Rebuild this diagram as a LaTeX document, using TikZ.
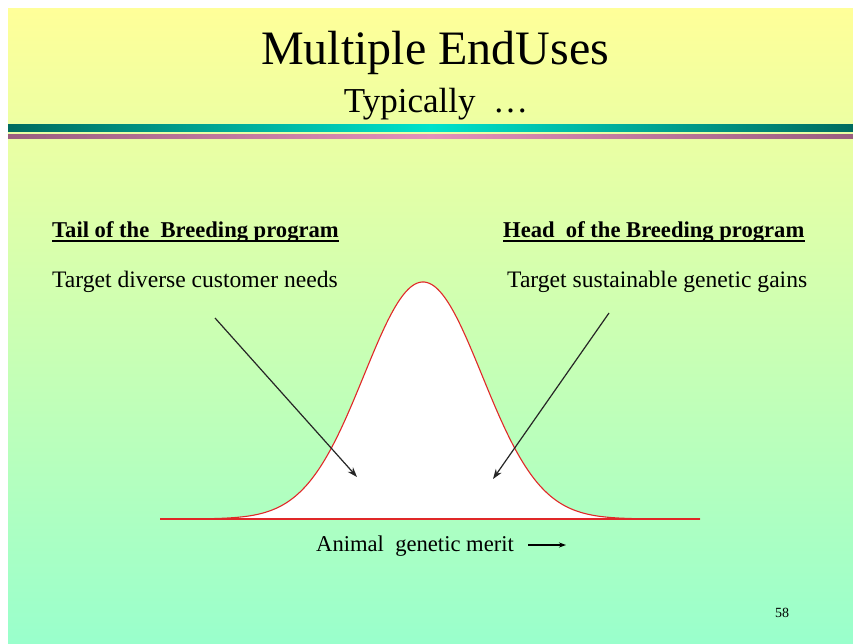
\documentclass[tikz,border=0pt]{standalone}
\usepackage{fontspec}
\setmainfont{Liberation Serif}
\usetikzlibrary{arrows.meta}
\definecolor{yel}{HTML}{FFFF99}
\definecolor{aqu}{HTML}{99FFCC}
\definecolor{tealdark}{HTML}{006B5F}
\definecolor{tealbright}{HTML}{00E3CB}
\definecolor{pinkdark}{HTML}{9A5E80}
\definecolor{pinkbright}{HTML}{E391BA}
\definecolor{curvered}{HTML}{E02828}
\tikzset{
  txt/.style={inner sep=0pt, anchor=base west, text=black},
  hdr/.style={txt, font=\bfseries\fontsize{22.6}{26}\selectfont},
  body/.style={txt, font=\fontsize{23.6}{27}\selectfont},
  ptr/.style={-{Stealth[length=10pt,width=7pt]}, line width=1.2pt, black!85},
}
\begin{document}
\begin{tikzpicture}[x=1pt,y=-1pt]
\useasboundingbox (0,0) rectangle (853,644);
\fill[white] (0,0) rectangle (853,644);
\shade[top color=yel, bottom color=aqu] (8,9) rectangle (853,644);
\shade[left color=tealdark, right color=tealdark, middle color=tealbright] (8,125) rectangle (853,132);
\shade[left color=pinkdark, right color=pinkdark, middle color=pinkbright] (8,135) rectangle (853,139);

\node[inner sep=0pt, anchor=base, font=\fontsize{48}{55}\selectfont] (title) at (435,65) {Multiple EndUses};
\node[inner sep=0pt, anchor=base, font=\fontsize{35}{40}\selectfont] (sub) at (436,113) {Typically \ …};

% bell curve
\filldraw[draw=curvered, fill=white, line width=1.1pt]
  plot[domain=160:700, samples=240, smooth] (\x, {519-237*exp(-0.5*((\x-423)/59)^2)}) -- cycle;
\draw[curvered, line width=1.1pt] (160,519) -- (700,519);

\node[hdr] (tail) at (52,237) {Tail of the \ Breeding program};
\draw[line width=1.6pt] ([yshift=-4pt]tail.base west) -- ([yshift=-4pt]tail.base east);
\node[body] (tailt) at (52,287) {Target diverse customer needs};

\node[hdr] (head) at (503,237) {Head \ of the Breeding program};
\draw[line width=1.6pt] ([yshift=-4pt]head.base west) -- ([yshift=-4pt]head.base east);
\node[body] (headt) at (507,287) {Target sustainable genetic gains};

\coordinate (la) at (215,318);
\coordinate (lb) at (357,477);
\coordinate (ra) at (609,313);
\coordinate (rb) at (493,479);
\draw[ptr] (la) -- (lb);
\draw[ptr] (ra) -- (rb);

\node[txt, font=\fontsize{22.6}{26}\selectfont] (merit) at (316,551) {Animal \ genetic merit};
\coordinate (ma) at (528,545);
\coordinate (mb) at (566,545);
\draw[-{Stealth[length=7pt,width=5pt]}, line width=1.2pt] (ma) -- (mb);

\node[txt, font=\fontsize{14}{16}\selectfont] (pg) at (775,617) {58};
\end{tikzpicture}
\end{document}
